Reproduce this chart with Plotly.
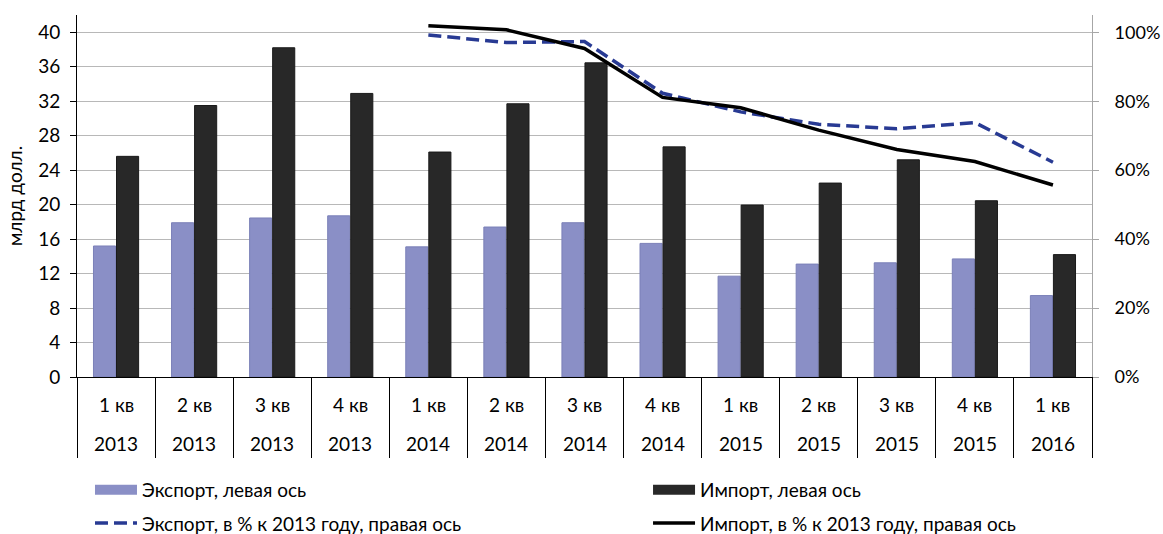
import plotly.graph_objects as go

quarters = ["1 кв", "2 кв", "3 кв", "4 кв", "1 кв", "2 кв", "3 кв", "4 кв",
            "1 кв", "2 кв", "3 кв", "4 кв", "1 кв"]
years = ["2013", "2013", "2013", "2013", "2014", "2014", "2014", "2014",
         "2015", "2015", "2015", "2015", "2016"]
export_bn = [15.2, 17.9, 18.45, 18.7, 15.1, 17.4, 17.9, 15.5, 11.7, 13.1, 13.25, 13.7, 9.45]
import_bn = [25.6, 31.5, 38.2, 32.9, 26.1, 31.7, 36.45, 26.7, 19.95, 22.5, 25.2, 20.45, 14.2]
export_pct = [None, None, None, None, 99.2, 97.0, 97.3, 82.3, 76.9, 73.3, 72.0, 73.8, 62.3]
import_pct = [None, None, None, None, 101.9, 100.7, 95.3, 81.1, 78.1, 71.6, 66.0, 62.5, 55.7]
left_ticks = [0, 4, 8, 12, 16, 20, 24, 28, 32, 36, 40]
right_ticks = [0, 20, 40, 60, 80, 100]
right_labels = ["0%", "20%", "40%", "60%", "80%", "100%"]

cats = [f"{q} {y}" for q, y in zip(quarters, years)]

FONT = "Lato, 'Open Sans', sans-serif"
FS = 19
EXPORT_COLOR = "#8A8FC6"
IMPORT_COLOR = "#282828"

fig = go.Figure()
fig.add_trace(go.Bar(
    x=cats, y=export_bn, name="Экспорт, левая ось", showlegend=False,
    marker=dict(color=EXPORT_COLOR, line=dict(color="#7B80B8", width=1)),
))
fig.add_trace(go.Bar(
    x=cats, y=import_bn, name="Импорт, левая ось", showlegend=False,
    marker=dict(color=IMPORT_COLOR, line=dict(color="#1A1A1A", width=1)),
))
fig.add_trace(go.Scatter(
    x=cats, y=export_pct, name="Экспорт, в % к 2013 году, правая ось",
    mode="lines", yaxis="y2",
    line=dict(color="#283A93", width=3.5, dash="13px,6px"),
    legend="legend3",
))
fig.add_trace(go.Scatter(
    x=cats, y=import_pct, name="Импорт, в % к 2013 году, правая ось",
    mode="lines", yaxis="y2",
    line=dict(color="#000000", width=3.5),
    legend="legend4",
))
# legend-only entries giving the bars a wide rectangular key
fig.add_trace(go.Scatter(
    x=[None], y=[None], name="Экспорт, левая ось", mode="lines",
    line=dict(color=EXPORT_COLOR, width=10), legend="legend",
))
fig.add_trace(go.Scatter(
    x=[None], y=[None], name="Импорт, левая ось", mode="lines",
    line=dict(color=IMPORT_COLOR, width=10), legend="legend2",
))

annotations = []
for c, q, y in zip(cats, quarters, years):
    annotations.append(dict(x=c, xref="x", y=-0.077, yref="paper", text=q,
                            showarrow=False, yanchor="middle", xanchor="center",
                            font=dict(family=FONT, size=FS, color="#000")))
    annotations.append(dict(x=c, xref="x", y=-0.183, yref="paper", text=y,
                            showarrow=False, yanchor="middle", xanchor="center",
                            font=dict(family=FONT, size=FS, color="#000")))
annotations.append(dict(x=-0.062, xref="paper", y=0.5, yref="paper",
                        text="млрд долл.", textangle=-90, showarrow=False,
                        xanchor="center", yanchor="middle",
                        font=dict(family=FONT, size=FS, color="#000")))

legend_common = dict(orientation="h", xanchor="left", yanchor="middle",
                     font=dict(family=FONT, size=FS, color="#000"),
                     bgcolor="rgba(0,0,0,0)", itemwidth=42, itemclick=False)

fig.update_layout(
    width=1163, height=534,
    margin=dict(l=77, r=71, t=15, b=157, autoexpand=False),
    paper_bgcolor="white", plot_bgcolor="white",
    font=dict(family=FONT, size=FS, color="#000"),
    barmode="group", bargap=0.41, bargroupgap=0.04,
    showlegend=True,
    legend=dict(x=0.0128, y=-0.312, **legend_common),
    legend2=dict(x=0.5626, y=-0.312, **legend_common),
    legend3=dict(x=0.0128, y=-0.404, **legend_common),
    legend4=dict(x=0.5626, y=-0.404, **legend_common),
    xaxis=dict(type="category", showline=True, linecolor="#000", linewidth=1,
               ticks="outside", tickson="boundaries", ticklen=80,
               tickcolor="#000", tickwidth=1, showticklabels=False,
               showgrid=False, zeroline=False),
    yaxis=dict(range=[0, 42], tickvals=left_ticks, showline=True,
               linecolor="#000", linewidth=1, ticks="outside", ticklen=6,
               tickcolor="#000", showgrid=True, gridcolor="#B8B8B8",
               gridwidth=1, zeroline=False, ticklabelstandoff=6,
               tickfont=dict(family=FONT, size=FS, color="#000")),
    yaxis2=dict(range=[0, 105], tickvals=right_ticks, ticktext=right_labels,
                overlaying="y", side="right", showline=True,
                linecolor="#A6A6A6", linewidth=1, ticks="outside", ticklen=6,
                tickcolor="#A6A6A6", showgrid=False, zeroline=False,
                ticklabelstandoff=12,
                tickfont=dict(family=FONT, size=18, color="#000")),
    annotations=annotations,
)

fig.write_html("out.html", config={"displayModeBar": False},
               post_script="document.body.style.margin='0px';document.body.style.overflow='hidden';")
